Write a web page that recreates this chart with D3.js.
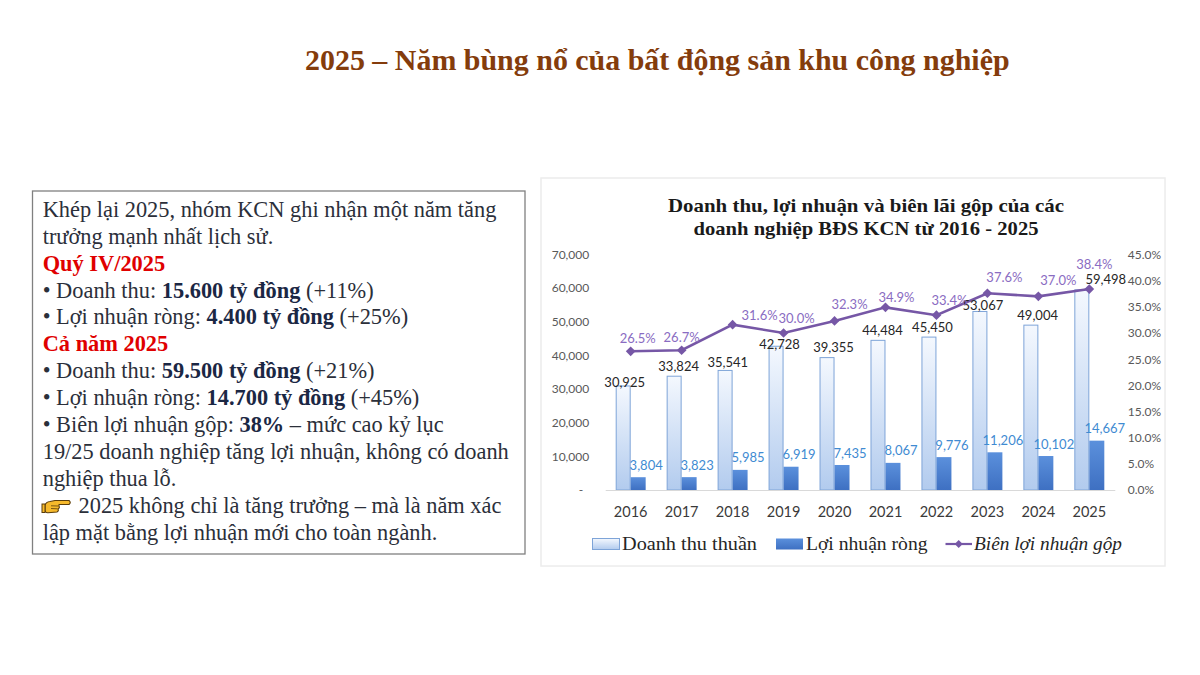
<!DOCTYPE html>
<html><head><meta charset="utf-8">
<script src="https://cdn.jsdelivr.net/npm/d3@7"></script>
<style>body{margin:0;background:#fff;} svg{display:block}</style>
</head><body>
<svg id="c" width="1200" height="675"></svg>
<script>
// ---------- data ----------
const years = ["2016","2017","2018","2019","2020","2021","2022","2023","2024","2025"];
const revenue = [30925,33824,35541,42728,39355,44484,45450,53067,49004,59498];
const netProfit = [3804,3823,5985,6919,7435,8067,9776,11206,10102,14667];
const grossMargin = [26.5,26.7,31.6,30.0,32.3,34.9,33.4,37.6,37.0,38.4];
const leftTicks = [0,10000,20000,30000,40000,50000,60000,70000];
const rightTicks = [0,5,10,15,20,25,30,35,40,45];
const seriesNames = ["Doanh thu thuần","Lợi nhuận ròng","Biên lợi nhuận gộp"];
const pageTitle = "2025 – Năm bùng nổ của bất động sản khu công nghiệp";
const chartTitle = ["Doanh thu, lợi nhuận và biên lãi gộp của các","doanh nghiệp BĐS KCN từ 2016 - 2025"];
const noteLines = [
  [["n","Khép lại 2025, nhóm KCN ghi nhận một năm tăng"]],
  [["n","trưởng mạnh nhất lịch sử."]],
  [["h","Quý IV/2025"]],
  [["n","• Doanh thu: "],["b","15.600 tỷ đồng"],["n"," (+11%)"]],
  [["n","• Lợi nhuận ròng: "],["b","4.400 tỷ đồng"],["n"," (+25%)"]],
  [["h","Cả năm 2025"]],
  [["n","• Doanh thu: "],["b","59.500 tỷ đồng"],["n"," (+21%)"]],
  [["n","• Lợi nhuận ròng: "],["b","14.700 tỷ đồng"],["n"," (+45%)"]],
  [["n","• Biên lợi nhuận gộp: "],["b","38%"],["n"," – mức cao kỷ lục"]],
  [["n","19/25 doanh nghiệp tăng lợi nhuận, không có doanh"]],
  [["n","nghiệp thua lỗ."]],
  [["n","2025 không chỉ là tăng trưởng – mà là năm xác"]],
  [["n","lập mặt bằng lợi nhuận mới cho toàn ngành."]]
];
// label nudges (layout only)
const revLabelShift = [[1.5,-4],[4.5,-9.3],[2.7,-7.7],[3.5,-2],[6.5,-10],[4.5,-10],[3.5,-10],[3,-5.7],[6.8,-9.5],[24,-10]];
const marginLabelShift = [[7,-13],[0,-13],[27,-9],[13,-15],[15,-17],[11,-10],[13,-15],[17,-16],[20,-16],[5,-25]];

// ---------- setup ----------
const svg = d3.select("#c");
const defs = svg.append("defs");
const g1 = defs.append("linearGradient").attr("id","gLight").attr("x1",0).attr("y1",0).attr("x2",0).attr("y2",1);
g1.append("stop").attr("offset","0%").attr("stop-color","#f4f8fe");
g1.append("stop").attr("offset","100%").attr("stop-color","#b2cbee");
const g2 = defs.append("linearGradient").attr("id","gDark").attr("x1",0).attr("y1",0).attr("x2",0).attr("y2",1);
g2.append("stop").attr("offset","0%").attr("stop-color","#5b90dc");
g2.append("stop").attr("offset","100%").attr("stop-color","#3e70c2");

function fitWidth(sel, w){
  const n = sel.node(); const cur = n.getComputedTextLength();
  const fs = parseFloat(sel.attr("font-size"));
  sel.attr("font-size", fs * w / cur);
}

// page title
const pt = svg.append("text").attr("x",305).attr("y",69.5)
  .attr("font-family","'Liberation Serif','Times New Roman',serif").attr("font-weight","bold")
  .attr("font-size",27).attr("fill","#843c0c").text(pageTitle);
fitWidth(pt, 705);

// ---------- text box ----------
svg.append("rect").attr("x",32.5).attr("y",191).attr("width",492.5).attr("height",363)
  .attr("fill","#fff").attr("stroke","#808080").attr("stroke-width",1.3);
const noteFont = "'Liberation Serif','Times New Roman',serif";
const probe = svg.append("text").attr("font-family",noteFont).attr("font-size",20).text(noteLines[0][0][1]);
const noteSize = 20 * 454 / probe.node().getComputedTextLength();
probe.remove();
const styleFill = {n:"#2b2f3a", b:"#1b2744", h:"#e00000"};
noteLines.forEach((line,i)=>{
  const t = svg.append("text").attr("x", i===11 ? 78.5 : 42.7).attr("y",216.7 + i*26.94)
    .attr("font-family",noteFont).attr("font-size",noteSize);
  line.forEach(([s,txt])=>{
    t.append("tspan").attr("fill",styleFill[s]).attr("font-weight", s==="n" ? "normal" : "bold").text(txt);
  });
});
// pointing hand icon
const hand = svg.append("g").attr("transform","translate(42,498)");
hand.append("path").attr("d","M13,2.5 L27,2.5 Q29.5,4.5 27,6.5 L17,6.5 L17,8 Q18,10 16,11 Q17,13 15,14 L6,14.8 Q3,15 3,12 L3,7 Q4,4 8,3.5 Z")
  .attr("fill","#f6b92b").attr("stroke","#5b3d0a").attr("stroke-width",1.1).attr("stroke-linejoin","round");
hand.append("rect").attr("x",0).attr("y",6).attr("width",3).attr("height",8.5).attr("fill","#f6b92b").attr("stroke","#5b3d0a").attr("stroke-width",1);
hand.append("path").attr("d","M9,10.5 L15.5,10.8 M9,7.8 L16.5,8").attr("stroke","#5b3d0a").attr("stroke-width",0.8).attr("fill","none");

// ---------- chart ----------
svg.append("rect").attr("x",541).attr("y",178).attr("width",624).attr("height",388)
  .attr("fill","#fff").attr("stroke","#ececec").attr("stroke-width",1.5);

const ctFont = "'Liberation Serif','Times New Roman',serif";
[[212,396],[234.5,345]].forEach(([y,w],i)=>{
  svg.append("text").attr("x",866).attr("y",y).attr("text-anchor","middle")
    .attr("font-family",ctFont).attr("font-weight","bold").attr("font-size",19.5).attr("fill","#1a1a1a")
    .attr("textLength",w).attr("lengthAdjust","spacingAndGlyphs").text(chartTitle[i]);
});

const x0 = 605.2, x1 = 1114.8, yBase = 490, yTop = 254.5;
const x = d3.scaleBand().domain(years).range([x0,x1]).padding(0);
const xs = d3.scaleBand().domain(["rev","np"]).range([0,x.bandwidth()]).paddingInner(0).paddingOuter(0.7);
const yL = d3.scaleLinear().domain([0,70000]).range([yBase,yTop]);
const yR = d3.scaleLinear().domain([0,45]).range([yBase,yTop]);
const numFont = "Lato,'Open Sans',sans-serif";

// axes
const axL = svg.append("g").attr("transform",`translate(${x0},0)`)
  .call(d3.axisLeft(yL).tickValues(leftTicks).tickSize(0).tickPadding(16)
    .tickFormat(d=> d===0 ? "-" : d3.format(",")(d)));
axL.select(".domain").remove();
axL.selectAll("text").attr("font-family",numFont).attr("font-size",12).attr("fill","#595959")
  .attr("dx", d=> d===0 ? -6 : 0);
const axR = svg.append("g").attr("transform",`translate(${x1},0)`)
  .call(d3.axisRight(yR).tickValues(rightTicks).tickSize(0).tickPadding(13)
    .tickFormat(d=> d3.format(".1f")(d)+"%"));
axR.select(".domain").remove();
axR.selectAll("text").attr("font-family",numFont).attr("font-size",12).attr("fill","#595959");

// bars
const rows = years.map((y,i)=>({y, rev:revenue[i], np:netProfit[i], gm:grossMargin[i], i}));
svg.append("g").selectAll("rect").data(rows).join("rect")
  .attr("x",d=>x(d.y)+xs("rev")+0.5).attr("width",xs.bandwidth()-1)
  .attr("y",d=>yL(d.rev)).attr("height",d=>yBase-yL(d.rev))
  .attr("fill","url(#gLight)").attr("stroke","#7ea4d8").attr("stroke-width",1);
svg.append("g").selectAll("rect").data(rows).join("rect")
  .attr("x",d=>x(d.y)+xs("np")).attr("width",xs.bandwidth())
  .attr("y",d=>yL(d.np)).attr("height",d=>yBase-yL(d.np))
  .attr("fill","url(#gDark)");

const axB = svg.append("g").attr("transform",`translate(0,${yBase})`)
  .call(d3.axisBottom(x).tickSize(0).tickSizeOuter(0).tickPadding(17));
axB.select(".domain").attr("stroke","#d9d9d9").attr("stroke-width",1.2);
axB.selectAll("text").attr("font-family",numFont).attr("font-size",14.5).attr("fill","#3a3a3a");

// line
const cx = d=>x(d.y)+x.bandwidth()/2;
svg.append("path").datum(rows)
  .attr("d",d3.line().x(cx).y(d=>yR(d.gm)))
  .attr("fill","none").attr("stroke","#7657a6").attr("stroke-width",2.6);
svg.append("g").selectAll("path").data(rows).join("path")
  .attr("transform",d=>`translate(${cx(d)},${yR(d.gm)})`)
  .attr("d",d3.symbol(d3.symbolDiamond2,60)()).attr("fill","#7657a6");

// labels
svg.append("g").selectAll("text").data(rows).join("text")
  .attr("x",d=>x(d.y)+xs("rev")+xs.bandwidth()/2+revLabelShift[d.i][0])
  .attr("y",d=>yL(d.rev)+revLabelShift[d.i][1]).attr("dy","0.35em").attr("text-anchor","middle")
  .attr("font-family",numFont).attr("font-size",13).attr("fill","#262626")
  .text(d=>d3.format(",")(d.rev));
svg.append("g").selectAll("text").data(rows).join("text")
  .attr("x",d=>x(d.y)+xs("np")+xs.bandwidth()/2+8)
  .attr("y",d=>yL(d.np)-12).attr("dy","0.35em").attr("text-anchor","middle")
  .attr("font-family",numFont).attr("font-size",13).attr("fill","#3f8bd2")
  .text(d=>d3.format(",")(d.np));
svg.append("g").selectAll("text").data(rows).join("text")
  .attr("x",d=>cx(d)+marginLabelShift[d.i][0])
  .attr("y",d=>yR(d.gm)+marginLabelShift[d.i][1]).attr("dy","0.35em").attr("text-anchor","middle")
  .attr("font-family",numFont).attr("font-size",13).attr("fill","#8a6cc2")
  .text(d=>d3.format(".1f")(d.gm)+"%");

// legend
const lg = svg.append("g");
const legFont = "'Liberation Serif','Times New Roman',serif";
lg.append("rect").attr("x",592.5).attr("y",538.5).attr("width",27).attr("height",11)
  .attr("fill","url(#gLight)").attr("stroke","#7ea4d8");
lg.append("text").attr("x",622).attr("y",549.5).attr("font-family",legFont).attr("font-size",19.5).attr("fill","#262626")
  .attr("textLength",135).attr("lengthAdjust","spacingAndGlyphs").text(seriesNames[0]);
lg.append("rect").attr("x",776).attr("y",538.5).attr("width",27).attr("height",11).attr("fill","url(#gDark)");
lg.append("text").attr("x",806).attr("y",549.5).attr("font-family",legFont).attr("font-size",19.5).attr("fill","#262626")
  .attr("textLength",121.5).attr("lengthAdjust","spacingAndGlyphs").text(seriesNames[1]);
lg.append("line").attr("x1",945.5).attr("x2",972).attr("y1",544).attr("y2",544).attr("stroke","#7657a6").attr("stroke-width",2.2);
lg.append("path").attr("transform","translate(958.7,544)").attr("d",d3.symbol(d3.symbolDiamond2,40)()).attr("fill","#7657a6");
lg.append("text").attr("x",974).attr("y",549.5).attr("font-family",legFont).attr("font-style","italic").attr("font-size",19.5).attr("fill","#262626")
  .attr("textLength",148).attr("lengthAdjust","spacingAndGlyphs").text(seriesNames[2]);
</script>
</body></html>
